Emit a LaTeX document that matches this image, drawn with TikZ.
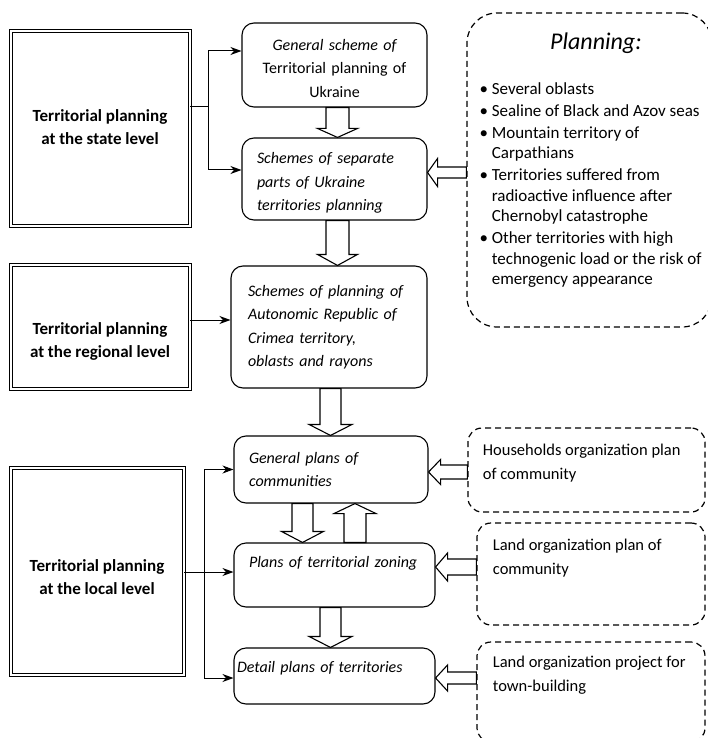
\documentclass[tikz,border=0pt]{standalone}
\usepackage{fontspec}
\setmainfont{Carlito}
\usetikzlibrary{arrows.meta, positioning, calc}

\tikzset{
  every picture/.style={line width=1pt},
  lvlbox/.style={draw, double, double distance=1.8pt, line width=0.9pt, inner sep=0pt},
  lvltext/.style={font=\fontsize{17}{23}\selectfont\bfseries, align=center},
  schemebox/.style={draw, line width=1.1pt, rounded corners=12pt, inner xsep=15pt, inner ysep=0pt,
    align=left, font=\fontsize{16}{23.5}\selectfont\itshape},
  sidebox/.style={draw, line width=1.2pt, dash pattern=on 6pt off 4pt, rounded corners=#1},
  sidebox/.default=14pt,
  sidetext/.style={font=\fontsize{16.5}{24}\selectfont, align=left, inner sep=0pt},
  listtext/.style={font=\fontsize{17}{20.5}\selectfont, align=left, inner sep=0pt},
  link/.style={-{Stealth[length=11pt, width=8pt, inset=3.5pt]}, line width=1pt},
  hollow/.style={draw, fill=white, line width=1.1pt, line join=miter},
}

% hollow block arrow: shaft half, head half, head length, from, to
\newcommand{\hollowarrow}[5]{%
  \path #4 coordinate (ha) #5 coordinate (hb);
  \path ($(hb)!#3!(ha)$) coordinate (hc);
  \draw[hollow] ($(ha)!#1!90:(hb)$) -- ($(hc)!#1!90:(hb)$) -- ($(hc)!#2!90:(hb)$) -- (hb)
    -- ($(hc)!#2!-90:(hb)$) -- ($(hc)!#1!-90:(hb)$) -- ($(ha)!#1!-90:(hb)$) -- cycle;
}

\begin{document}
\begin{tikzpicture}[x=1pt, y=-1pt]
  \useasboundingbox (0,0) rectangle (708,738);

  % levels
  \node[lvlbox, minimum width=179pt, minimum height=195pt] (state) at (100.5,128.5) {};
  \node[lvltext] (statetxt) at (100,127) {Territorial planning\\at the state level};
  \node[lvlbox, minimum width=179pt, minimum height=124pt] (regional) at (100.5,327) {};
  \node[lvltext] (regionaltxt) at (100,341) {Territorial planning\\at the regional level};
  \node[lvlbox, minimum width=173pt, minimum height=207pt] (local) at (97.5,571.5) {};
  \node[lvltext] (localtxt) at (97,577) {Territorial planning\\at the local level};

  % schemes and plans
  \node[schemebox, align=center, text width=155pt, minimum height=84pt] (gs) at (334.5,65)
    {\rule{0pt}{18pt}General scheme of\\{\upshape Territorial planning of}\\{\upshape Ukraine}};
  \node[schemebox, text width=155pt, minimum height=82pt] (sep) at (334.5,179)
    {\rule{0pt}{19pt}Schemes of separate\\parts of Ukraine\\territories planning};
  \node[schemebox, inner xsep=17pt, text width=162pt, minimum height=122pt] (arc) at (329,327)
    {Schemes of planning of\\Autonomic Republic of\\Crimea territory,\\oblasts and rayons};
  \node[schemebox, text width=164pt, minimum height=67pt] (gp) at (331,469.5)
    {General plans of\\communities};
  \node[schemebox, text width=171pt, minimum height=64pt] (pz) at (334.5,575)
    {\rule[-27.5pt]{0pt}{39pt}Plans of territorial zoning};
  \node[schemebox, inner xsep=3pt, text width=195pt, minimum height=56pt] (dp) at (334.5,676)
    {\rule[-19.5pt]{0pt}{31pt}Detail plans of territories};

  % planning list
  \node[sidebox=30pt, minimum width=245pt, minimum height=314pt] (plan) at (589.5,170) {};
  \node[font=\fontsize{24}{26}\selectfont\itshape] (plantitle) at (596,43) {Planning:};
  \node[listtext, anchor=north west] (planlist) at (479,82)
    {\textbullet\ Several oblasts\\[1.5pt]
     \textbullet\ Sealine of Black and Azov seas\\[1.5pt]
     \textbullet\ Mountain territory of\\
     \hphantom{\textbullet\ }Carpathians\\[1.5pt]
     \textbullet\ Territories suffered from\\
     \hphantom{\textbullet\ }radioactive influence after\\
     \hphantom{\textbullet\ }Chernobyl catastrophe\\[1.5pt]
     \textbullet\ Other territories with high\\
     \hphantom{\textbullet\ }technogenic load or the risk of\\
     \hphantom{\textbullet\ }emergency appearance};

  % supporting plans
  \node[sidebox, minimum width=237pt, minimum height=84pt] (hh) at (586.5,470) {};
  \node[sidetext, below right=16pt and 15pt of hh.north west] (hhtxt)
    {Households organization plan\\of community};
  \node[sidebox, minimum width=228pt, minimum height=102pt] (lp) at (591,574) {};
  \node[sidetext, below right=16pt and 16pt of lp.north west] (lptxt)
    {Land organization plan of\\community};
  \node[sidebox, minimum width=228pt, minimum height=100pt] (lproj) at (591,692) {};
  \node[sidetext, below right=14pt and 16pt of lproj.north west] (lprojtxt)
    {Land organization project for\\town-building};

  % line connectors
  \coordinate (sjoint) at (208,107);
  \draw[link] (state.east |- sjoint) -- (sjoint) |- (gs.west |- 0,51);
  \draw[link] (sjoint) |- (sep.west |- 0,170);
  \draw[link] (regional.east |- 0,320) -- (arc.west |- 0,320);
  \coordinate (ljoint) at (204,572);
  \draw[link] (local.east |- ljoint) -- (pz.west |- ljoint);
  \draw[link] (ljoint) |- (gp.west);
  \draw[link] (ljoint) |- (dp.west |- 0,678);

  % block arrows
  \hollowarrow{11.5pt}{20pt}{9pt}{(337.5,0 |- gs.south)}{(337.5,0 |- sep.north)}
  \hollowarrow{11.5pt}{20pt}{11pt}{(337.5,0 |- sep.south)}{(337.5,0 |- arc.north)}
  \hollowarrow{10.5pt}{21.5pt}{11pt}{(330.5,0 |- arc.south)}{(330.5,0 |- gp.north)}
  \hollowarrow{10.5pt}{21pt}{11pt}{(302.5,0 |- gp.south)}{(302.5,0 |- pz.north)}
  \hollowarrow{11pt}{21pt}{10pt}{(355,0 |- pz.north)}{(355,0 |- gp.south)}
  \hollowarrow{10.5pt}{21.5pt}{11pt}{(330.5,0 |- pz.south)}{(330.5,0 |- dp.north)}
  \hollowarrow{5.5pt}{14pt}{10pt}{(plan.west |- 0,172.5)}{(sep.east |- 0,172.5)}
  \hollowarrow{7pt}{12.5pt}{12pt}{(hh.west |- 0,472)}{(gp.east |- 0,472)}
  \hollowarrow{8pt}{14pt}{12pt}{(lp.west |- 0,567)}{(pz.east |- 0,567)}
  \hollowarrow{6pt}{13pt}{12pt}{(lproj.west |- 0,678)}{(dp.east |- 0,678)}
\end{tikzpicture}
\end{document}
